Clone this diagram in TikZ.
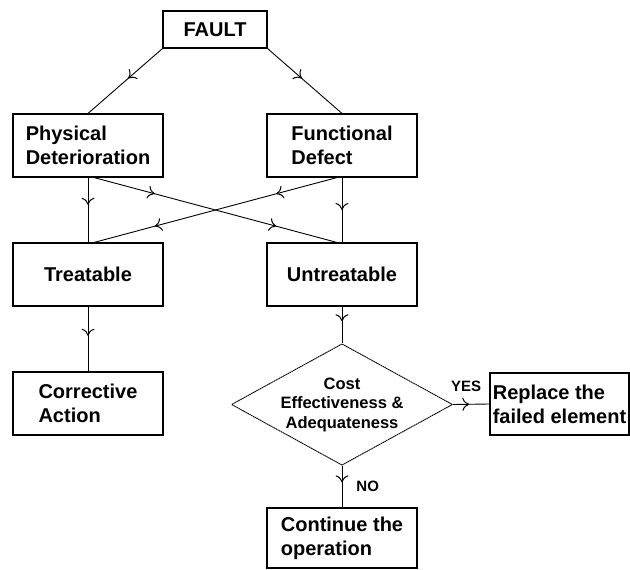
\documentclass[tikz,border=0pt]{standalone}
\usepackage{fontspec}
\setmainfont{Liberation Sans}
\usetikzlibrary{shapes.geometric,decorations.markings,arrows.meta}

\tikzset{
  >={Computer Modern Rightarrow[length=7pt,width=13pt,line width=1pt]},
  box/.style={draw, line width=1.1pt, minimum width=150pt, minimum height=63pt,
    align=left, inner sep=2pt, font=\fontsize{20}{24}\selectfont\bfseries},
  link/.style={line width=0.9pt},
  midarrow/.style={postaction={decorate, decoration={markings,
    mark=at position #1 with {\arrow{>}}}}},
  twoarrows/.style={postaction={decorate, decoration={markings,
    mark=at position 0.25 with {\arrow{>}},
    mark=at position 0.75 with {\arrow{>}}}}},
  tag/.style={font=\fontsize{15}{18}\selectfont\bfseries, inner sep=2pt}
}

\begin{document}
\begin{tikzpicture}[x=10pt, y=-10pt]
\useasboundingbox (0,0) rectangle (63,57);

% boxes
\node[box, minimum width=104pt, minimum height=37pt] (fault) at (21.5, 2.95) {FAULT};
\node[box] (phys) at (8.8, 14.55) {Physical\\Deterioration};
\node[box] (func) at (34.2, 14.55) {Functional\\Defect};
\node[box] (treat) at (8.8, 27.45) {Treatable};
\node[box] (untreat) at (34.2, 27.45) {Untreatable};
\node[box] (corr) at (8.8, 40.35) {Corrective\\Action};
\node[draw, dashed, dash pattern=on 1.5pt off 0.5pt, line width=0.9pt, diamond, aspect=1.82,
  minimum width=213pt, minimum height=117pt, inner sep=0pt, align=center,
  font=\fontsize{16.5}{19.5}\selectfont\bfseries] (cost) at (34.2, 40.45)
  {Cost\\Effectiveness \&\\Adequateness};
\node[box, minimum width=139pt, minimum height=62pt] (repl) at (55.95, 40.4) {Replace the\\failed element};
\node[box, minimum height=60pt] (cont) at (34.2, 53.8) {Continue the\\operation};

% connectors
\draw[link, midarrow=0.46] (fault.south west) -- (phys.north);
\draw[link, midarrow=0.46] (fault.south east) -- (func.north);
\draw[link, midarrow=0.42] (phys.south) -- (treat.north);
\draw[link, midarrow=0.5] (func.south) -- (untreat.north);
\draw[link, twoarrows] ([xshift=6pt]phys.south) -- ([xshift=-5pt]untreat.north);
\draw[link, twoarrows] ([xshift=-5pt]func.south) -- ([xshift=6pt]treat.north);
\draw[link, midarrow=0.45] (treat.south) -- (corr.north);
\draw[link, midarrow=0.4] (untreat.south) -- (cost.north);
\draw[link, midarrow=0.45] (cost.east) -- node[tag, pos=0.36, above=10pt] (yes) {YES} (repl.west);
\draw[link, midarrow=0.4] (cost.south) -- node[tag, pos=0.5, right=12pt] (no) {NO} (cont.north);

\end{tikzpicture}
\end{document}
